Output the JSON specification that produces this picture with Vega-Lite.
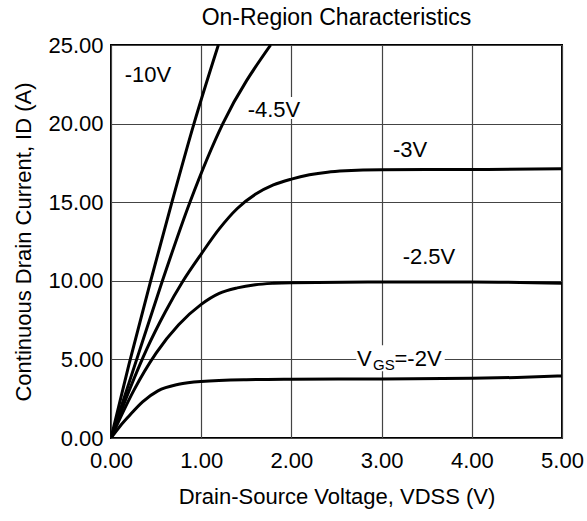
{
  "$schema": "https://vega.github.io/schema/vega-lite/v6.json",
  "autosize": {"type": "none"},
  "padding": {"left": 111, "top": 45, "right": 25, "bottom": 83},
  "width": 451,
  "height": 393,
  "background": "white",
  "config": {
    "font": "Liberation Sans",
    "view": {"stroke": "black", "strokeWidth": 2},
    "axis": {
      "labelFont": "Liberation Sans",
      "titleFont": "Liberation Sans",
      "labelFontSize": 22,
      "titleFontSize": 22,
      "titleFontWeight": "normal",
      "labelColor": "black",
      "titleColor": "black",
      "labelFlush": false,
      "ticks": false,
      "domain": false,
      "grid": true,
      "gridColor": "#444444",
      "gridWidth": 1.2,
      "gridOpacity": 1
    },
    "title": {"font": "Liberation Sans", "fontSize": 23, "fontWeight": "normal", "color": "black", "offset": 4}
  },
  "title": "On-Region Characteristics",
  "datasets": {
    "curves": [
      {"s": "-10V", "v": 0, "i": 0},
      {"s": "-10V", "v": 0.2, "i": 4.7},
      {"s": "-10V", "v": 0.44, "i": 10},
      {"s": "-10V", "v": 0.68, "i": 15.1},
      {"s": "-10V", "v": 0.92, "i": 20},
      {"s": "-10V", "v": 1.19, "i": 25},
      {"s": "-4.5V", "v": 0, "i": 0},
      {"s": "-4.5V", "v": 0.32, "i": 5.62},
      {"s": "-4.5V", "v": 0.57, "i": 10},
      {"s": "-4.5V", "v": 0.875, "i": 15},
      {"s": "-4.5V", "v": 1.24, "i": 20},
      {"s": "-4.5V", "v": 1.77, "i": 25},
      {"s": "-3V", "v": 0, "i": 0},
      {"s": "-3V", "v": 0.2, "i": 3.0},
      {"s": "-3V", "v": 0.4, "i": 5.7},
      {"s": "-3V", "v": 0.6, "i": 8.0},
      {"s": "-3V", "v": 0.8, "i": 10.0},
      {"s": "-3V", "v": 1.0, "i": 11.7},
      {"s": "-3V", "v": 1.2, "i": 13.3},
      {"s": "-3V", "v": 1.4, "i": 14.6},
      {"s": "-3V", "v": 1.6, "i": 15.5},
      {"s": "-3V", "v": 1.8, "i": 16.1},
      {"s": "-3V", "v": 2.0, "i": 16.47},
      {"s": "-3V", "v": 2.2, "i": 16.74},
      {"s": "-3V", "v": 2.4, "i": 16.91},
      {"s": "-3V", "v": 2.6, "i": 17.0},
      {"s": "-3V", "v": 3.0, "i": 17.07},
      {"s": "-3V", "v": 4.0, "i": 17.08},
      {"s": "-3V", "v": 5.0, "i": 17.12},
      {"s": "-2.5V", "v": 0, "i": 0},
      {"s": "-2.5V", "v": 0.25, "i": 3.0},
      {"s": "-2.5V", "v": 0.5, "i": 5.4},
      {"s": "-2.5V", "v": 0.75, "i": 7.2},
      {"s": "-2.5V", "v": 1.0, "i": 8.5},
      {"s": "-2.5V", "v": 1.2, "i": 9.2},
      {"s": "-2.5V", "v": 1.4, "i": 9.55},
      {"s": "-2.5V", "v": 1.6, "i": 9.75},
      {"s": "-2.5V", "v": 1.8, "i": 9.84},
      {"s": "-2.5V", "v": 2.0, "i": 9.88},
      {"s": "-2.5V", "v": 3.0, "i": 9.93},
      {"s": "-2.5V", "v": 4.0, "i": 9.93},
      {"s": "-2.5V", "v": 5.0, "i": 9.85},
      {"s": "-2V", "v": 0, "i": 0},
      {"s": "-2V", "v": 0.1, "i": 0.75},
      {"s": "-2V", "v": 0.2, "i": 1.4},
      {"s": "-2V", "v": 0.35, "i": 2.3},
      {"s": "-2V", "v": 0.52, "i": 3.0},
      {"s": "-2V", "v": 0.75, "i": 3.42},
      {"s": "-2V", "v": 1.0, "i": 3.6},
      {"s": "-2V", "v": 1.5, "i": 3.71},
      {"s": "-2V", "v": 2.0, "i": 3.74},
      {"s": "-2V", "v": 3.0, "i": 3.76},
      {"s": "-2V", "v": 4.0, "i": 3.8},
      {"s": "-2V", "v": 4.5, "i": 3.85},
      {"s": "-2V", "v": 5.0, "i": 3.95}
    ],
    "labels": [
      {"t": "-10V", "v": 0.41, "i": 23.1},
      {"t": "-4.5V", "v": 1.807, "i": 20.88},
      {"t": "-3V", "v": 3.315, "i": 18.34},
      {"t": "-2.5V", "v": 3.525, "i": 11.5}
    ],
    "boxes": [
      {"x1": 2.72, "x2": 3.7, "y1": 4.25, "y2": 5.9},
      {"x1": 1.5, "x2": 2.12, "y1": 20.3, "y2": 21.7}
    ],
    "vgs": [{"v": 2.727, "i": 4.6}]
  },
  "layer": [
    {
      "data": {"name": "boxes"},
      "mark": {"type": "rect", "fill": "white", "strokeWidth": 0},
      "encoding": {
        "x": {"field": "x1", "type": "quantitative", "scale": {"domain": [0, 5], "nice": false},
              "axis": {"values": [0, 1, 2, 3, 4, 5], "format": ".2f", "labelPadding": 12, "titlePadding": 15, "title": "Drain-Source Voltage, VDSS (V)"}},
        "x2": {"field": "x2"},
        "y": {"field": "y1", "type": "quantitative", "scale": {"domain": [0, 25], "nice": false},
              "axis": {"values": [0, 5, 10, 15, 20, 25], "format": ".2f", "labelPadding": 8, "titlePadding": 12, "title": "Continuous Drain Current, ID (A)"}},
        "y2": {"field": "y2"}
      }
    },
    {
      "data": {"name": "curves"},
      "mark": {"type": "line", "color": "black", "strokeWidth": 3, "interpolate": "monotone", "clip": true},
      "encoding": {
        "x": {"field": "v", "type": "quantitative"},
        "y": {"field": "i", "type": "quantitative"},
        "detail": {"field": "s"}
      }
    },
    {
      "data": {"name": "labels"},
      "mark": {"type": "text", "fontSize": 22, "color": "black", "align": "center", "baseline": "middle"},
      "encoding": {
        "x": {"field": "v", "type": "quantitative"},
        "y": {"field": "i", "type": "quantitative"},
        "text": {"field": "t"}
      }
    },
    {
      "data": {"name": "vgs"},
      "mark": {"type": "text", "fontSize": 22, "color": "black", "align": "left", "baseline": "alphabetic"},
      "encoding": {
        "x": {"field": "v", "type": "quantitative"},
        "y": {"field": "i", "type": "quantitative"},
        "text": {"value": "V"}
      }
    },
    {
      "data": {"name": "vgs"},
      "mark": {"type": "text", "fontSize": 15, "color": "black", "align": "left", "baseline": "alphabetic", "dx": 16, "dy": 4},
      "encoding": {
        "x": {"field": "v", "type": "quantitative"},
        "y": {"field": "i", "type": "quantitative"},
        "text": {"value": "GS"}
      }
    },
    {
      "data": {"name": "vgs"},
      "mark": {"type": "text", "fontSize": 22, "color": "black", "align": "left", "baseline": "alphabetic", "dx": 37.5},
      "encoding": {
        "x": {"field": "v", "type": "quantitative"},
        "y": {"field": "i", "type": "quantitative"},
        "text": {"value": "=-2V"}
      }
    }
  ]
}
